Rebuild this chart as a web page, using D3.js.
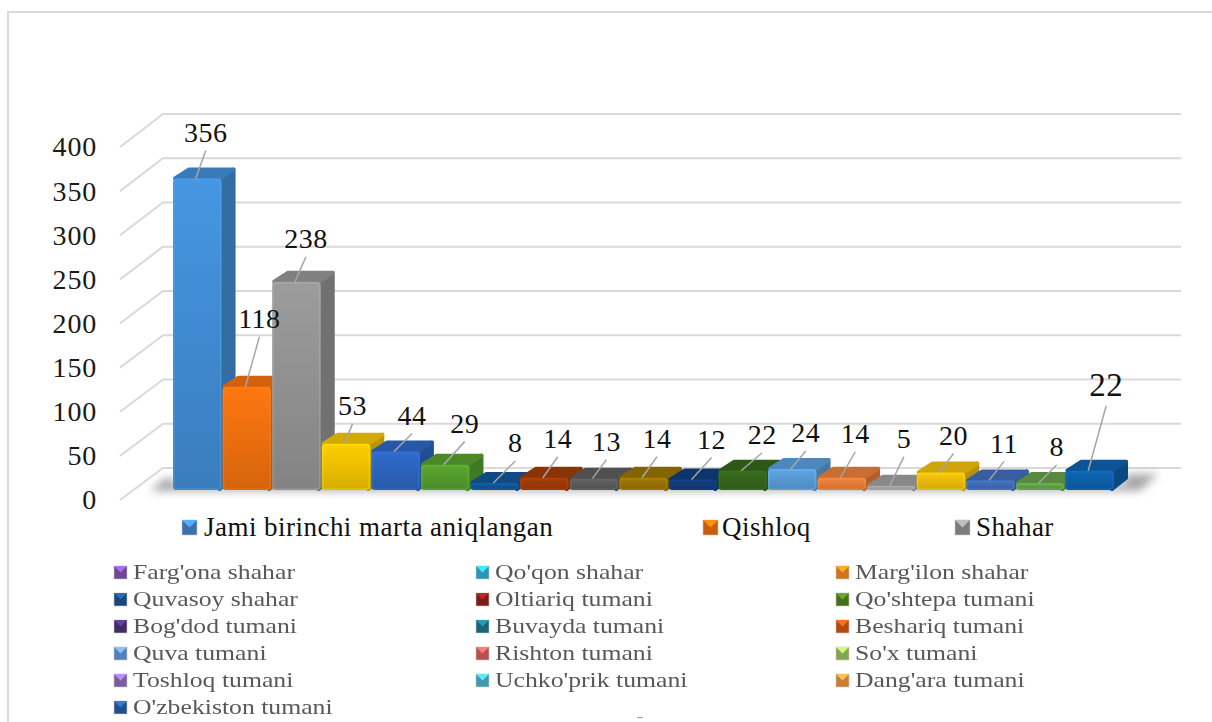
<!DOCTYPE html>
<html>
<head>
<meta charset="utf-8">
<script src="https://cdn.jsdelivr.net/npm/d3@7"></script>
<style>
body { margin: 0; background: #fff; }
svg { display: block; }
text { font-family: "Liberation Serif", serif; }
</style>
</head>
<body>
<svg width="1212" height="722"></svg>
<script>
let categories = ["Jami birinchi marta aniqlangan", "Qishloq", "Shahar",
	"Farg'ona shahar", "Qo'qon shahar", "Marg'ilon shahar",
	"Quvasoy shahar", "Oltiariq tumani", "Qo'shtepa tumani",
	"Bog'dod tumani", "Buvayda tumani", "Beshariq tumani",
	"Quva tumani", "Rishton tumani", "So'x tumani",
	"Toshloq tumani", "Uchko'prik tumani", "Dang'ara tumani",
	"O'zbekiston tumani"];
let values = [356, 118, 238, 53, 44, 29, 8, 14, 13, 14, 12, 22, 24, 14, 5, 20, 11, 8, 22];
let barColors = ["#4596e2", "#ff7710", "#9c9c9c", "#ffcf00", "#2f6bcb", "#5aa631",
	"#125a9e", "#a83e06", "#616161", "#a07a00", "#123f82", "#386b1d",
	"#5ea5e6", "#f5853b", "#a5a5a5", "#fcc80c", "#4472c4", "#69a84c", "#0e66b5"];
let legendColors = ["#3f7fc0", "#e0680c", "#8a8a8a",
	"#7d4fa8", "#2fa8c8", "#e8801c",
	"#1f4e85", "#8a1e1e", "#4f7a20",
	"#4a2f70", "#1c7088", "#c85010",
	"#5c8fd0", "#cc5a58", "#94b858",
	"#8a68b0", "#48aac4", "#e08c3c",
	"#245a9c"];
let yTicks = [0, 50, 100, 150, 200, 250, 300, 350, 400];
// where each value label sits, relative to the top of its bar
let labelDx = [8, 12, 9, 6, 16, 19, 20, 13, 12, 13, 18, 19, 13, 13, 12, 12, 13, 16, 16];
let labelDy = [-46, -68, -43, -38, -36, -41, -40, -39, -37, -39, -40, -36, -36, -44, -47, -37, -37, -36, -86];

let data = categories.map((name, i) => ({name, value: values[i], color: barColors[i], i}));

let svg = d3.select("svg");
let depth = {x: 14, y: 11};

let x = d3.scaleBand()
	.domain(categories)
	.range([173, 1115]);

let yBar = d3.scaleLinear().domain([0, 400]).range([490, 140]);
let yFront = d3.scaleLinear().domain([0, 400]).range([500, 147]);
let yBack = d3.scaleLinear().domain([0, 400]).range([468, 114]);

let defs = svg.append("defs");
defs.append("filter").attr("id", "soft")
	.attr("x", "-20%").attr("y", "-60%").attr("width", "140%").attr("height", "220%")
	.append("feGaussianBlur").attr("stdDeviation", 4);
defs.append("filter").attr("id", "haze")
	.append("feGaussianBlur").attr("stdDeviation", 0.35);

let grad = defs.selectAll("linearGradient").data(data).enter().append("linearGradient")
	.attr("id", d => "front" + d.i)
	.attr("x1", 0).attr("y1", 0).attr("x2", 0).attr("y2", 1);
grad.append("stop").attr("offset", "0%").attr("stop-color", d => d.color);
grad.append("stop").attr("offset", "100%").attr("stop-color", d => d3.color(d.color).darker(0.5));

// chart frame, only top and left show in the crop
svg.append("path")
	.attr("d", "M8,722V12H1212")
	.attr("fill", "none").attr("stroke", "#d9d9d9").attr("stroke-width", 2);

// gridlines on the wall and the side
let grid = svg.append("g").attr("stroke", "#d9d9d9").attr("stroke-width", 2).attr("fill", "none");
grid.selectAll("path").data(yTicks).enter().append("path")
	.attr("d", d => `M120,${yFront(d)}L163,${yBack(d)}H1181`);

// floor shadow
svg.append("path")
	.attr("d", `M150,491H1140L1158,474H1125V484H173V478H165Z`)
	.attr("fill", "#a8a8a8")
	.attr("filter", "url(#soft)");

let yAxis = d3.axisLeft(yFront).tickValues(yTicks).tickSize(0).tickPadding(0);
svg.append("g")
	.attr("transform", "translate(97,0)")
	.call(yAxis)
	.call(g => g.select(".domain").remove())
	.call(g => g.selectAll("text")
		.attr("font-family", "Liberation Serif")
		.attr("font-size", 28)
		.attr("letter-spacing", 0.8)
		.attr("fill", "#1a1a1a"));

// bars: side and top faces first, then the front
let bars = svg.append("g").selectAll("g").data(data).enter().append("g");
let bw = x.bandwidth() - 1;

bars.append("path")
	.attr("d", d => {
		let r = x(d.name) + bw - 2, t = yBar(d.value) + 2, b = yBar(0) - 1;
		return `M${r},${t}L${r + depth.x},${t - depth.y}V${b - depth.y}L${r},${b}Z`;
	})
	.attr("fill", d => d3.color(d.color).darker(0.9))
	.attr("stroke", d => d3.color(d.color).darker(0.9))
	.attr("stroke-width", 4)
	.attr("stroke-linejoin", "round");

bars.append("path")
	.attr("d", d => {
		let l = x(d.name) + 2, r = x(d.name) + bw - 2, t = yBar(d.value);
		return `M${l},${t}L${l + depth.x},${t - depth.y + 2}H${r + depth.x}L${r},${t}Z`;
	})
	.attr("fill", d => d3.color(d.color).darker(0.55))
	.attr("stroke", d => d3.color(d.color).darker(0.55))
	.attr("stroke-width", 4)
	.attr("stroke-linejoin", "round");

bars.append("rect")
	.attr("x", d => x(d.name))
	.attr("y", d => yBar(d.value))
	.attr("width", bw)
	.attr("height", d => yBar(0) - yBar(d.value))
	.attr("rx", 3.5)
	.attr("fill", d => `url(#front${d.i})`);

// lighter bevel around the front face
bars.append("rect")
	.attr("x", d => x(d.name) + 1)
	.attr("y", d => yBar(d.value) + 1)
	.attr("width", bw - 2)
	.attr("height", d => Math.max(yBar(0) - yBar(d.value) - 2, 1))
	.attr("rx", 3)
	.attr("fill", "none")
	.attr("stroke", d => d3.color(d.color).brighter(0.6))
	.attr("stroke-opacity", 0.3)
	.attr("stroke-width", 1.5);

// leader lines and value labels
let cx = d => x(d.name) + x.bandwidth() / 2;
let big = d => d.i === 18;
svg.append("g").attr("stroke", "#a6a6a6").attr("stroke-width", 1.5)
	.selectAll("line").data(data).enter().append("line")
	.attr("x1", d => cx(d) - 2)
	.attr("y1", d => yBar(d.value))
	.attr("x2", d => cx(d) + labelDx[d.i])
	.attr("y2", d => yBar(d.value) + labelDy[d.i] + (big(d) ? 21 : 18));

svg.append("g").attr("text-anchor", "middle").attr("fill", "#111")
	.selectAll("text").data(data).enter().append("text")
	.attr("x", d => cx(d) + labelDx[d.i])
	.attr("y", d => yBar(d.value) + labelDy[d.i])
	.attr("dy", "0.33em")
	.attr("font-size", d => big(d) ? 33 : 28)
	.attr("letter-spacing", 0.5)
	.text(d => d.value);

// legends
function swatch(g, c, s) {
	g.append("rect").attr("width", s).attr("height", s).attr("fill", d3.color(c).darker(0.3))
		.attr("stroke", "#c8c8c8").attr("stroke-width", 0.6);
	g.append("path").attr("d", `M0,0H${s}L${s / 2},${s / 2}Z`).attr("fill", d3.color(c).brighter(0.9));
}

let topX = [182, 703, 955];
let topGap = [22, 19, 21];
categories.slice(0, 3).forEach((name, i) => {
	let g = svg.append("g").attr("transform", `translate(${topX[i]},520)`);
	swatch(g, legendColors[i], 15);
	g.append("text").attr("x", topGap[i]).attr("y", 16).attr("font-size", 27)
		.attr("letter-spacing", 0.47).attr("fill", "#111").text(name);
});

let colX = [114, 476, 836];
let rowY = d3.scaleLinear().domain([0, 5]).range([566, 701]);
categories.slice(3).forEach((name, i) => {
	let col = i % 3, row = Math.floor(i / 3);
	let g = svg.append("g").attr("transform", `translate(${colX[col]},${rowY(row)})`);
	swatch(g, legendColors[i + 3], 13);
	g.append("text").attr("transform", "translate(19,6.5) scale(1.225,1)").attr("dy", "0.33em")
		.attr("font-size", 21).attr("fill", "#595959")
		.attr("filter", "url(#haze)").text(name);
});

// stray clipped stroke at the bottom edge of the crop
svg.append("path").attr("d", "M637,717.5H643").attr("stroke", "#999").attr("stroke-width", 1);
</script>
</body>
</html>
